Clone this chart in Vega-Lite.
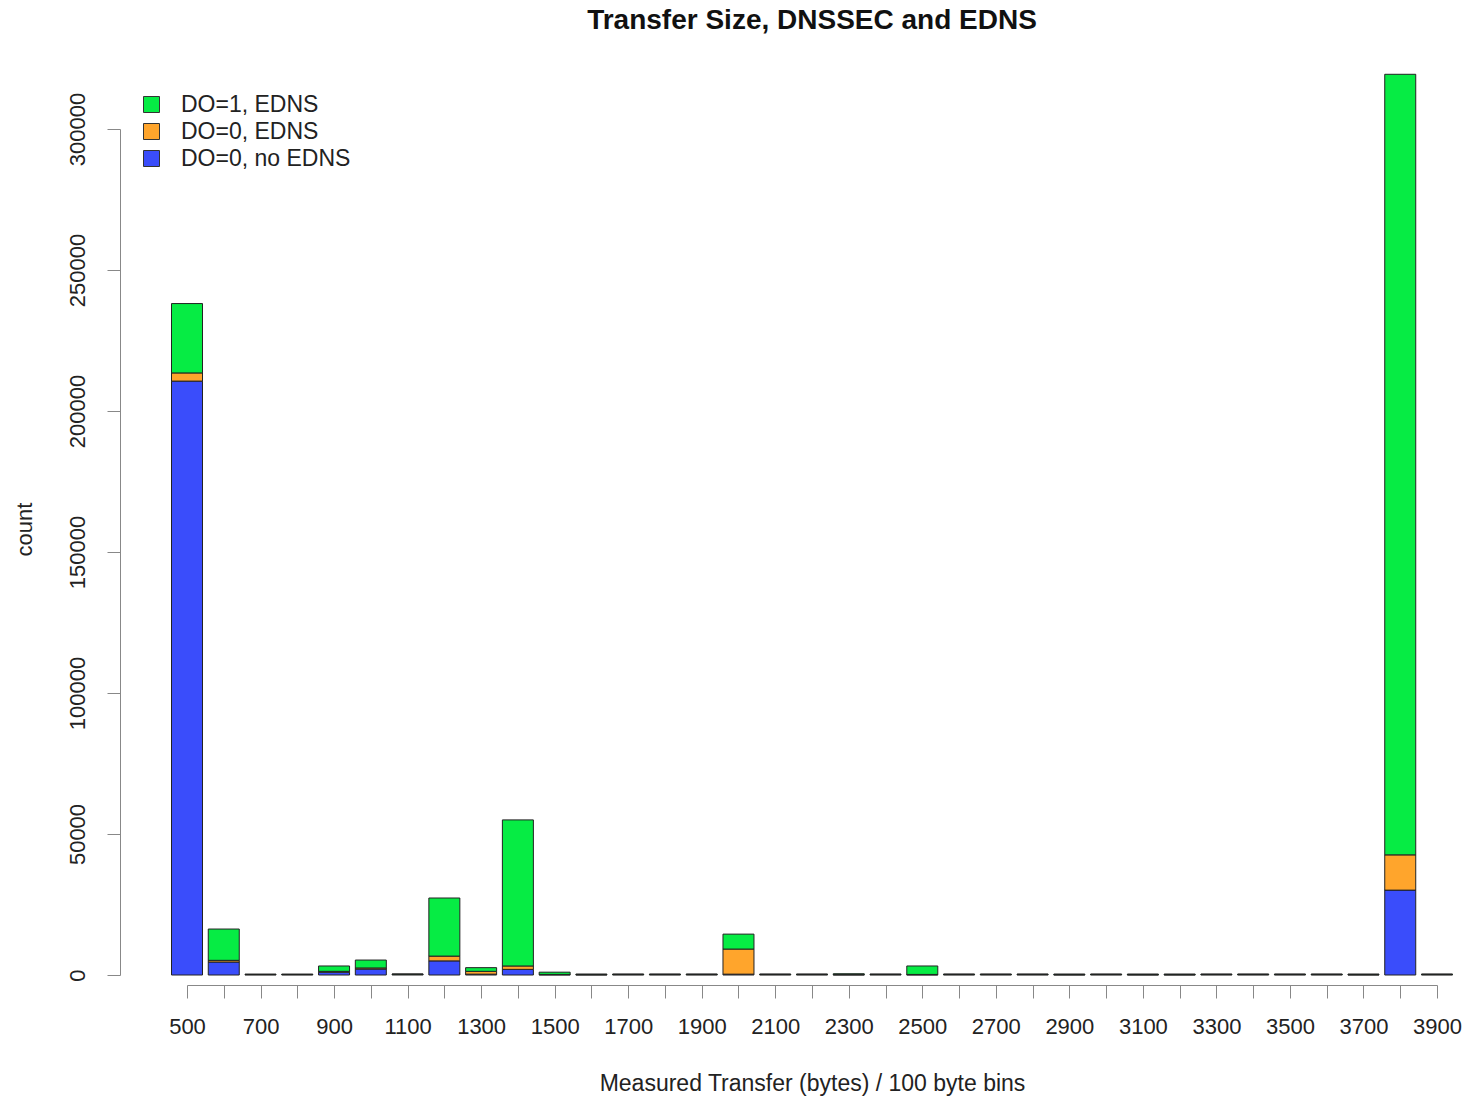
{
  "$schema": "https://vega.github.io/schema/vega-lite/v6.json",
  "width": 1250,
  "height": 846,
  "autosize": {"type": "none"},
  "padding": {"left": 187, "top": 129, "right": 30, "bottom": 123},
  "background": "white",
  "config": {
    "font": "Liberation Sans",
    "view": {"stroke": null},
    "axis": {"grid": false, "labelFont": "Liberation Sans", "titleFont": "Liberation Sans", "labelColor": "#222", "titleColor": "#222", "domainColor": "#888", "tickColor": "#888", "titleFontWeight": "normal"}
  },
  "title": {
    "text": "Transfer Size, DNSSEC and EDNS",
    "fontSize": 28,
    "fontWeight": "bold",
    "font": "Liberation Sans",
    "color": "#111",
    "anchor": "middle",
    "frame": "group",
    "offset": 39
  },
  "data": {
    "values": [
      {"bin": 500, "series": "DO=0, no EDNS", "rank": 1, "count": 210600},
      {"bin": 500, "series": "DO=0, EDNS", "rank": 2, "count": 2900},
      {"bin": 500, "series": "DO=1, EDNS", "rank": 3, "count": 24600},
      {"bin": 600, "series": "DO=0, no EDNS", "rank": 1, "count": 4600},
      {"bin": 600, "series": "DO=0, EDNS", "rank": 2, "count": 600},
      {"bin": 600, "series": "DO=1, EDNS", "rank": 3, "count": 11100},
      {"bin": 700, "series": "DO=0, no EDNS", "rank": 1, "count": 150},
      {"bin": 700, "series": "DO=0, EDNS", "rank": 2, "count": 50},
      {"bin": 700, "series": "DO=1, EDNS", "rank": 3, "count": 100},
      {"bin": 800, "series": "DO=0, no EDNS", "rank": 1, "count": 150},
      {"bin": 800, "series": "DO=0, EDNS", "rank": 2, "count": 50},
      {"bin": 800, "series": "DO=1, EDNS", "rank": 3, "count": 100},
      {"bin": 900, "series": "DO=0, no EDNS", "rank": 1, "count": 1000},
      {"bin": 900, "series": "DO=0, EDNS", "rank": 2, "count": 300},
      {"bin": 900, "series": "DO=1, EDNS", "rank": 3, "count": 1900},
      {"bin": 1000, "series": "DO=0, no EDNS", "rank": 1, "count": 2100},
      {"bin": 1000, "series": "DO=0, EDNS", "rank": 2, "count": 400},
      {"bin": 1000, "series": "DO=1, EDNS", "rank": 3, "count": 2800},
      {"bin": 1100, "series": "DO=0, no EDNS", "rank": 1, "count": 200},
      {"bin": 1100, "series": "DO=0, EDNS", "rank": 2, "count": 50},
      {"bin": 1100, "series": "DO=1, EDNS", "rank": 3, "count": 100},
      {"bin": 1200, "series": "DO=0, no EDNS", "rank": 1, "count": 5000},
      {"bin": 1200, "series": "DO=0, EDNS", "rank": 2, "count": 1700},
      {"bin": 1200, "series": "DO=1, EDNS", "rank": 3, "count": 20600},
      {"bin": 1300, "series": "DO=0, no EDNS", "rank": 1, "count": 300},
      {"bin": 1300, "series": "DO=0, EDNS", "rank": 2, "count": 1000},
      {"bin": 1300, "series": "DO=1, EDNS", "rank": 3, "count": 1300},
      {"bin": 1400, "series": "DO=0, no EDNS", "rank": 1, "count": 2000},
      {"bin": 1400, "series": "DO=0, EDNS", "rank": 2, "count": 1200},
      {"bin": 1400, "series": "DO=1, EDNS", "rank": 3, "count": 51800},
      {"bin": 1500, "series": "DO=0, no EDNS", "rank": 1, "count": 100},
      {"bin": 1500, "series": "DO=0, EDNS", "rank": 2, "count": 100},
      {"bin": 1500, "series": "DO=1, EDNS", "rank": 3, "count": 800},
      {"bin": 1600, "series": "DO=0, no EDNS", "rank": 1, "count": 100},
      {"bin": 1600, "series": "DO=0, EDNS", "rank": 2, "count": 50},
      {"bin": 1600, "series": "DO=1, EDNS", "rank": 3, "count": 200},
      {"bin": 1700, "series": "DO=0, no EDNS", "rank": 1, "count": 150},
      {"bin": 1700, "series": "DO=0, EDNS", "rank": 2, "count": 50},
      {"bin": 1700, "series": "DO=1, EDNS", "rank": 3, "count": 150},
      {"bin": 1800, "series": "DO=0, no EDNS", "rank": 1, "count": 150},
      {"bin": 1800, "series": "DO=0, EDNS", "rank": 2, "count": 50},
      {"bin": 1800, "series": "DO=1, EDNS", "rank": 3, "count": 150},
      {"bin": 1900, "series": "DO=0, no EDNS", "rank": 1, "count": 150},
      {"bin": 1900, "series": "DO=0, EDNS", "rank": 2, "count": 50},
      {"bin": 1900, "series": "DO=1, EDNS", "rank": 3, "count": 150},
      {"bin": 2000, "series": "DO=0, no EDNS", "rank": 1, "count": 300},
      {"bin": 2000, "series": "DO=0, EDNS", "rank": 2, "count": 8900},
      {"bin": 2000, "series": "DO=1, EDNS", "rank": 3, "count": 5300},
      {"bin": 2100, "series": "DO=0, no EDNS", "rank": 1, "count": 150},
      {"bin": 2100, "series": "DO=0, EDNS", "rank": 2, "count": 50},
      {"bin": 2100, "series": "DO=1, EDNS", "rank": 3, "count": 150},
      {"bin": 2200, "series": "DO=0, no EDNS", "rank": 1, "count": 150},
      {"bin": 2200, "series": "DO=0, EDNS", "rank": 2, "count": 50},
      {"bin": 2200, "series": "DO=1, EDNS", "rank": 3, "count": 150},
      {"bin": 2300, "series": "DO=0, no EDNS", "rank": 1, "count": 100},
      {"bin": 2300, "series": "DO=0, EDNS", "rank": 2, "count": 50},
      {"bin": 2300, "series": "DO=1, EDNS", "rank": 3, "count": 300},
      {"bin": 2400, "series": "DO=0, no EDNS", "rank": 1, "count": 150},
      {"bin": 2400, "series": "DO=0, EDNS", "rank": 2, "count": 50},
      {"bin": 2400, "series": "DO=1, EDNS", "rank": 3, "count": 150},
      {"bin": 2500, "series": "DO=0, no EDNS", "rank": 1, "count": 100},
      {"bin": 2500, "series": "DO=0, EDNS", "rank": 2, "count": 100},
      {"bin": 2500, "series": "DO=1, EDNS", "rank": 3, "count": 3000},
      {"bin": 2600, "series": "DO=0, no EDNS", "rank": 1, "count": 150},
      {"bin": 2600, "series": "DO=0, EDNS", "rank": 2, "count": 50},
      {"bin": 2600, "series": "DO=1, EDNS", "rank": 3, "count": 150},
      {"bin": 2700, "series": "DO=0, no EDNS", "rank": 1, "count": 150},
      {"bin": 2700, "series": "DO=0, EDNS", "rank": 2, "count": 50},
      {"bin": 2700, "series": "DO=1, EDNS", "rank": 3, "count": 150},
      {"bin": 2800, "series": "DO=0, no EDNS", "rank": 1, "count": 150},
      {"bin": 2800, "series": "DO=0, EDNS", "rank": 2, "count": 50},
      {"bin": 2800, "series": "DO=1, EDNS", "rank": 3, "count": 150},
      {"bin": 2900, "series": "DO=0, no EDNS", "rank": 1, "count": 100},
      {"bin": 2900, "series": "DO=0, EDNS", "rank": 2, "count": 50},
      {"bin": 2900, "series": "DO=1, EDNS", "rank": 3, "count": 200},
      {"bin": 3000, "series": "DO=0, no EDNS", "rank": 1, "count": 150},
      {"bin": 3000, "series": "DO=0, EDNS", "rank": 2, "count": 50},
      {"bin": 3000, "series": "DO=1, EDNS", "rank": 3, "count": 150},
      {"bin": 3100, "series": "DO=0, no EDNS", "rank": 1, "count": 100},
      {"bin": 3100, "series": "DO=0, EDNS", "rank": 2, "count": 50},
      {"bin": 3100, "series": "DO=1, EDNS", "rank": 3, "count": 200},
      {"bin": 3200, "series": "DO=0, no EDNS", "rank": 1, "count": 100},
      {"bin": 3200, "series": "DO=0, EDNS", "rank": 2, "count": 50},
      {"bin": 3200, "series": "DO=1, EDNS", "rank": 3, "count": 200},
      {"bin": 3300, "series": "DO=0, no EDNS", "rank": 1, "count": 150},
      {"bin": 3300, "series": "DO=0, EDNS", "rank": 2, "count": 50},
      {"bin": 3300, "series": "DO=1, EDNS", "rank": 3, "count": 150},
      {"bin": 3400, "series": "DO=0, no EDNS", "rank": 1, "count": 150},
      {"bin": 3400, "series": "DO=0, EDNS", "rank": 2, "count": 50},
      {"bin": 3400, "series": "DO=1, EDNS", "rank": 3, "count": 150},
      {"bin": 3500, "series": "DO=0, no EDNS", "rank": 1, "count": 150},
      {"bin": 3500, "series": "DO=0, EDNS", "rank": 2, "count": 50},
      {"bin": 3500, "series": "DO=1, EDNS", "rank": 3, "count": 150},
      {"bin": 3600, "series": "DO=0, no EDNS", "rank": 1, "count": 150},
      {"bin": 3600, "series": "DO=0, EDNS", "rank": 2, "count": 50},
      {"bin": 3600, "series": "DO=1, EDNS", "rank": 3, "count": 150},
      {"bin": 3700, "series": "DO=0, no EDNS", "rank": 1, "count": 100},
      {"bin": 3700, "series": "DO=0, EDNS", "rank": 2, "count": 50},
      {"bin": 3700, "series": "DO=1, EDNS", "rank": 3, "count": 200},
      {"bin": 3800, "series": "DO=0, no EDNS", "rank": 1, "count": 30100},
      {"bin": 3800, "series": "DO=0, EDNS", "rank": 2, "count": 12500},
      {"bin": 3800, "series": "DO=1, EDNS", "rank": 3, "count": 276800},
      {"bin": 3900, "series": "DO=0, no EDNS", "rank": 1, "count": 150},
      {"bin": 3900, "series": "DO=0, EDNS", "rank": 2, "count": 50},
      {"bin": 3900, "series": "DO=1, EDNS", "rank": 3, "count": 150}
    ]
  },
  "mark": {"type": "bar", "size": 31, "stroke": "#222", "strokeWidth": 1, "clip": false},
  "encoding": {
    "x": {
      "field": "bin",
      "type": "quantitative",
      "scale": {"domain": [500, 3900], "nice": false, "zero": false, "padding": 0},
      "axis": {
        "title": "Measured Transfer (bytes) / 100 byte bins",
        "titleFontSize": 23,
        "titlePadding": 35,
        "values": [500,600,700,800,900,1000,1100,1200,1300,1400,1500,1600,1700,1800,1900,2000,2100,2200,2300,2400,2500,2600,2700,2800,2900,3000,3100,3200,3300,3400,3500,3600,3700,3800,3900],
        "labelExpr": "(datum.value - 500) % 200 == 0 ? datum.value : ''",
        "format": "d",
        "labelFontSize": 22,
        "labelPadding": 18,
        "tickSize": 13,
        "offset": 10,
        "labelFlush": false,
        "labelOverlap": false
      }
    },
    "y": {
      "field": "count",
      "type": "quantitative",
      "stack": "zero",
      "scale": {"domain": [0, 300000], "nice": false},
      "axis": {
        "title": "count",
        "titleFontSize": 22,
        "titlePadding": 30,
        "titleY": 400,
        "values": [0, 50000, 100000, 150000, 200000, 250000, 300000],
        "format": "d",
        "labelAngle": -90,
        "labelAlign": "center",
        "labelBaseline": "bottom",
        "labelFontSize": 22,
        "labelPadding": 18,
        "tickSize": 13,
        "offset": 67,
        "labelOverlap": false
      }
    },
    "color": {
      "field": "series",
      "type": "nominal",
      "scale": {
        "domain": ["DO=1, EDNS", "DO=0, EDNS", "DO=0, no EDNS"],
        "range": ["#06EC44", "#FFA52C", "#3A4DFB"]
      },
      "legend": {
        "title": null,
        "orient": "none",
        "legendX": -47,
        "legendY": -36,
        "symbolType": "square",
        "symbolSize": 256,
        "symbolStrokeColor": "#333",
        "symbolStrokeWidth": 1,
        "labelFontSize": 23,
        "labelColor": "#222",
        "labelOffset": 18,
        "labelLimit": 400,
        "rowPadding": 3
      }
    },
    "order": {"field": "rank", "type": "quantitative"}
  }
}
